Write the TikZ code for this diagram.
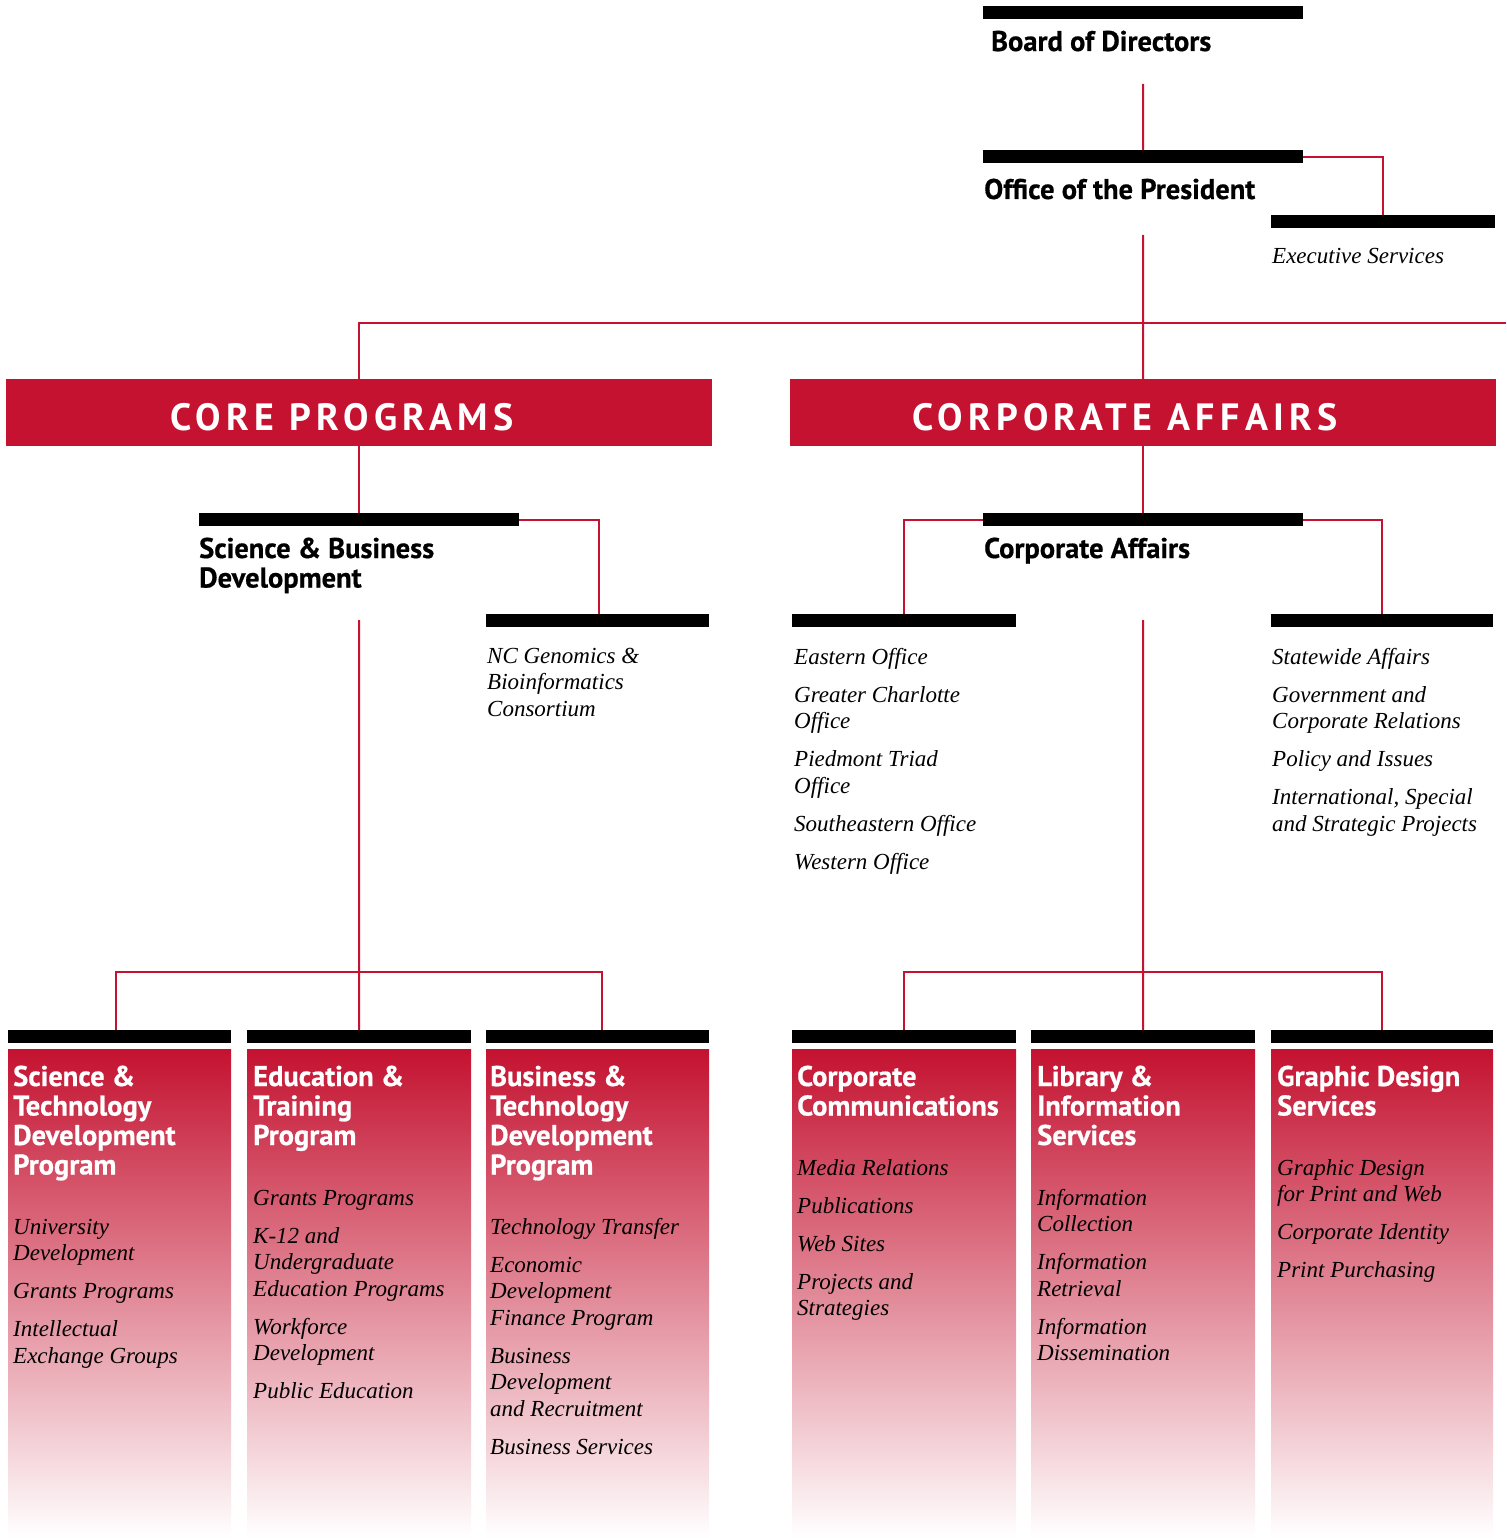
\documentclass[tikz,border=0pt]{standalone}
\usepackage{fontspec}
\setmainfont{Liberation Serif}
\newfontfamily\hfont[BoldFeatures={FakeBold=0.6}]{PT Sans}
\newfontfamily\capfont[LetterSpace=14]{PT Sans}
\definecolor{nred}{HTML}{C41230}
\newcommand{\mlines}[1]{\begin{tabular}[t]{@{}l@{}}#1\end{tabular}}
\tikzset{
  bar/.style={fill=black, draw=none, rectangle, inner sep=0pt, minimum height=13pt, anchor=north west},
  conn/.style={draw=nred, line width=2pt},
  bighead/.style={anchor=base west, inner sep=0pt, font=\hfont\bfseries\fontsize{28.5}{29.5}\selectfont},
  head/.style={anchor=base west, inner sep=0pt, font=\hfont\bfseries\fontsize{28.5}{29.5}\selectfont},
  whead/.style={head, text=white},
  item/.style={anchor=base west, inner sep=0pt, font=\itshape\fontsize{23}{26.5}\selectfont},
  secbox/.style={fill=nred, draw=none, rectangle, inner sep=0pt, minimum width=706pt, minimum height=67pt, anchor=north west},
  sectext/.style={anchor=base, inner sep=0pt, text=white, font=\capfont\bfseries\fontsize{38}{40}\selectfont},
  panel/.style={top color=nred, bottom color=white, draw=none},
}
\begin{document}
\begin{tikzpicture}[x=1pt,y=-1pt]
\useasboundingbox (0,0) rectangle (1506,1538);

% top levels
\node[bar, minimum width=320pt] (board) at (983,6) {};
\node[bighead] (tboard) at (991,51) {Board of Directors};
\node[bar, minimum width=320pt] (office) at (983,150) {};
\node[bighead] (toffice) at (984,199) {Office of the President};
\node[bar, minimum width=224pt] (exec) at (1271,215) {};
\node[item] (texec) at (1272,263) {Executive Services};

\coordinate (c1) at (1143,84);
\coordinate (c2) at (1143,235);
\coordinate (c3) at (1506,323);
\draw[conn] (c1) -- (office.north);
\draw[conn] (office.east) -| (exec.north);

% section boxes
\node[secbox] (core) at (6,379) {};
\node[secbox] (corp) at (790,379) {};
\node[sectext] (tcore) at (342,430) {CORE PROGRAMS};
\node[sectext] (tcorp) at (1125,430) {CORPORATE AFFAIRS};
\draw[conn] (c2) -- (corp.north);
\draw[conn] (core.north) |- (c3);

% middle level left
\node[bar, minimum width=320pt] (sb) at (199,513) {};
\node[head] (tsb) at (199,558) {\mlines{Science \& Business\\Development}};
\node[bar, minimum width=223pt] (ncg) at (486,614) {};
\node[item] (tncg) at (487,663) {\mlines{NC Genomics \&\\Bioinformatics\\Consortium}};
\draw[conn] (core.south) -- (sb.north);
\draw[conn] (sb.east) -| ([xshift=1.5pt]ncg.north);

% middle level right
\node[bar, minimum width=320pt] (ca) at (983,513) {};
\node[head] (tca) at (984,558) {Corporate Affairs};
\node[bar, minimum width=224pt] (east) at (792,614) {};
\node[bar, minimum width=222pt] (state) at (1271,614) {};
\node[item] (teast) at (794,664) {\mlines{Eastern Office\\[11.5pt]Greater Charlotte\\Office\\[11.5pt]Piedmont Triad\\Office\\[11.5pt]Southeastern Office\\[11.5pt]Western Office}};
\node[item] (tstate) at (1272,664) {\mlines{Statewide Affairs\\[11.5pt]Government and\\Corporate Relations\\[11.5pt]Policy and Issues\\[11.5pt]International, Special\\and Strategic Projects}};
\draw[conn] (corp.south) -- (ca.north);
\draw[conn] (ca.west) -| (east.north);
\draw[conn] (ca.east) -| (state.north);

% bottom panels
\shade[panel] (8,1049) rectangle (231,1538);
\shade[panel] (247,1049) rectangle (471,1538);
\shade[panel] (486,1049) rectangle (709,1538);
\shade[panel] (792,1049) rectangle (1016,1538);
\shade[panel] (1031,1049) rectangle (1255,1538);
\shade[panel] (1271,1049) rectangle (1493,1538);

\node[bar, minimum width=223pt] (p1) at (8,1030) {};
\node[bar, minimum width=224pt] (p2) at (247,1030) {};
\node[bar, minimum width=223pt] (p3) at (486,1030) {};
\node[bar, minimum width=224pt] (p4) at (792,1030) {};
\node[bar, minimum width=224pt] (p5) at (1031,1030) {};
\node[bar, minimum width=222pt] (p6) at (1271,1030) {};

\coordinate (c4) at (359,620);
\coordinate (h1) at (359,972);
\coordinate (c5) at (1143,620);
\coordinate (h2) at (1143,972);
\draw[conn] (c4) -- (p2.north);
\draw[conn] ([xshift=-3.5pt]p1.north) |- (h1) -| ([xshift=4.5pt]p3.north);
\draw[conn] (c5) -- (p5.north);
\draw[conn] (p4.north) |- (h2) -| (p6.north);

\node[whead] (hp1) at (13,1086) {\mlines{Science \&\\Technology\\Development\\Program}};
\node[item] (ip1) at (13,1234) {\mlines{University\\Development\\[11.5pt]Grants Programs\\[11.5pt]Intellectual\\Exchange Groups}};

\node[whead] (hp2) at (253,1086) {\mlines{Education \&\\Training\\Program}};
\node[item] (ip2) at (253,1205) {\mlines{Grants Programs\\[11.5pt]K-12 and\\Undergraduate\\Education Programs\\[11.5pt]Workforce\\Development\\[11.5pt]Public Education}};

\node[whead] (hp3) at (490,1086) {\mlines{Business \&\\Technology\\Development\\Program}};
\node[item] (ip3) at (490,1234) {\mlines{Technology Transfer\\[11.5pt]Economic\\Development\\Finance Program\\[11.5pt]Business\\Development\\and Recruitment\\[11.5pt]Business Services}};

\node[whead] (hp4) at (797,1086) {\mlines{Corporate\\Communications}};
\node[item] (ip4) at (797,1175) {\mlines{Media Relations\\[11.5pt]Publications\\[11.5pt]Web Sites\\[11.5pt]Projects and\\Strategies}};

\node[whead] (hp5) at (1037,1086) {\mlines{Library \&\\Information\\Services}};
\node[item] (ip5) at (1037,1205) {\mlines{Information\\Collection\\[11.5pt]Information\\Retrieval\\[11.5pt]Information\\Dissemination}};

\node[whead] (hp6) at (1277,1086) {\mlines{Graphic Design\\Services}};
\node[item] (ip6) at (1277,1175) {\mlines{Graphic Design\\for Print and Web\\[11.5pt]Corporate Identity\\[11.5pt]Print Purchasing}};
\end{tikzpicture}
\end{document}
